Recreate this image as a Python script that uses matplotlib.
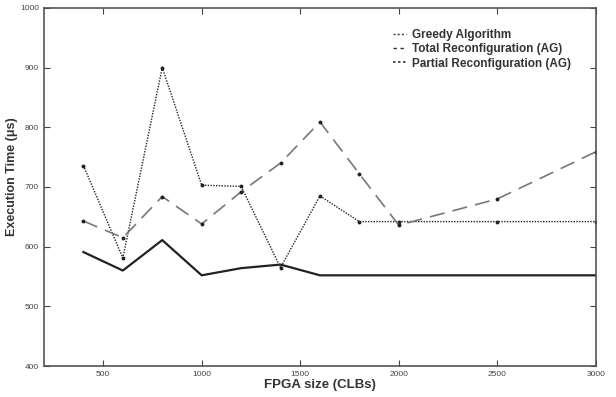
import matplotlib
matplotlib.use("Agg")
import matplotlib.pyplot as plt
from matplotlib.lines import Line2D

plt.rcParams['font.family'] = ['Liberation Sans', 'DejaVu Sans']

# FPGA size (CLBs)
fpgaSize = [400, 600, 800, 1000, 1200, 1400, 1600, 1800, 2000, 2500, 3000]

# execution times (us)
greedy = [736, 581, 900, 703, 701, 565, 685, 642, 642, 642, 642]
totalReconf = [643, 615, 684, 638, 692, 740, 809, 722, 636, 680, 759]
partialReconf = [591, 560, 611, 552, 564, 570, 552, 552, 552, 552, 552]

seriesNames = ['Greedy Algorithm', 'Total Reconfiguration (AG)', 'Partial Reconfiguration (AG)']

xTicks = [500, 1000, 1500, 2000, 2500, 3000]
yTicks = [400, 500, 600, 700, 800, 900, 1000]


def main():
    fig = plt.figure(figsize=(6.16, 3.97), dpi=100)
    ax = fig.add_axes([0.0714, 0.078, 0.896, 0.902])

    ax.plot(fpgaSize, greedy, color='#222222', linestyle=(0, (1, 1)), linewidth=1.0,
            marker='o', markersize=1.8)
    ax.plot(fpgaSize, totalReconf, color='#777777', linestyle=(0, (9, 5)), linewidth=1.2,
            marker='o', markersize=1.8, markerfacecolor='#222222', markeredgecolor='#222222')
    ax.plot(fpgaSize, partialReconf, color='#222222', linestyle='-', linewidth=1.6)

    ax.set_xlim(200, 3000)
    ax.set_ylim(400, 1000)
    ax.set_xticks(xTicks)
    ax.set_yticks(yTicks)
    ax.tick_params(direction='in', top=True, right=True, labelsize=6, colors='#444444',
                   length=4, width=0.8)
    for s in ax.spines.values():
        s.set_color('#555555')
        s.set_linewidth(1.2)

    ax.set_xlabel('FPGA size (CLBs)', fontsize=9.5, fontweight='bold', color='#333333', labelpad=1)
    ax.set_ylabel('Execution Time (\u03bcs)', fontsize=9, fontweight='bold', color='#333333')
    ax.yaxis.set_label_coords(-0.047, 0.53)

    # legend handles as in the original: short dash marks before the text
    handles = [
        Line2D([], [], color='#333333', linestyle=(0, (1.5, 1.5)), linewidth=1.0),
        Line2D([], [], color='#333333', linestyle=(0, (2.5, 2.5)), linewidth=1.0),
        Line2D([], [], color='#333333', linestyle=(0, (1.5, 1.5)), linewidth=1.2),
    ]
    leg = ax.legend(handles, seriesNames, loc='upper left', bbox_to_anchor=(0.622, 0.958),
                    frameon=False, fontsize=8.5, handlelength=1.1, handletextpad=0.5,
                    labelspacing=0.2, borderpad=0)
    for t in leg.get_texts():
        t.set_fontweight('bold')
        t.set_color('#333333')

    fig.savefig('out.png', dpi=100)


if __name__ == '__main__':
    main()
